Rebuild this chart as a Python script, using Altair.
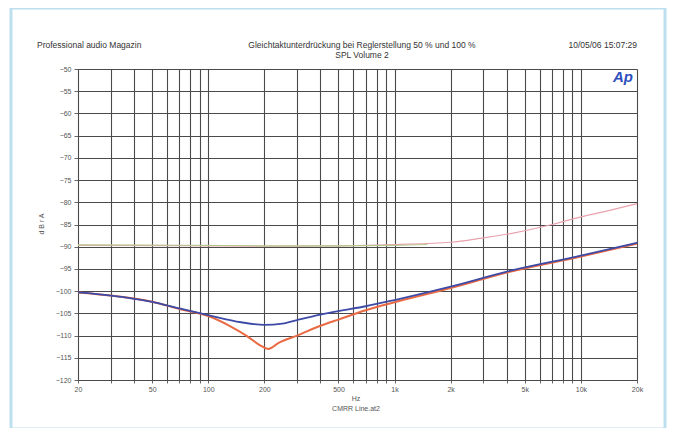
import altair as alt
import pandas as pd

# ---- data ----
freq_blue = [20, 30, 50, 70, 100, 150, 200, 250, 300, 400, 500, 700, 1000, 2000, 4000, 10000, 20000]
blue_db   = [-100.3, -101.0, -102.4, -103.9, -105.4, -107.0, -107.6, -107.3, -106.5, -105.3, -104.5, -103.4, -102.0, -99.0, -95.6, -92.0, -89.1]

freq_red = [20, 30, 50, 70, 100, 130, 160, 190, 210, 240, 300, 400, 500, 700, 1000, 2000, 4000, 10000, 20000]
red_db   = [-100.3, -101.0, -102.4, -104.0, -105.6, -107.8, -110.0, -112.2, -113.0, -111.6, -110.0, -107.8, -106.4, -104.3, -102.5, -99.3, -95.8, -92.2, -89.3]

freq_green = [20, 100, 200, 500, 1000, 1500]
green_db   = [-89.6, -89.7, -89.8, -89.8, -89.7, -89.5]

freq_pink = [20, 100, 200, 500, 1000, 2000, 3000, 4000, 5000, 7000, 10000, 15000, 20000]
pink_db   = [-89.7, -89.8, -89.9, -89.8, -89.5, -89.0, -88.0, -87.2, -86.4, -85.0, -83.3, -81.6, -80.3]

grid_freqs = [20, 30, 40, 50, 60, 70, 80, 90, 100, 200, 300, 400, 500, 600, 700, 800, 900,
              1000, 2000, 3000, 4000, 5000, 6000, 7000, 8000, 9000, 10000, 20000]
label_freqs = [20, 50, 100, 200, 500, 1000, 2000, 5000, 10000, 20000]
y_ticks = [-50, -55, -60, -65, -70, -75, -80, -85, -90, -95, -100, -105, -110, -115, -120]

title_left = "Professional audio Magazin"
title_center = "Gleichtaktunterdrückung bei Reglerstellung 50 % und 100 %"
title_center2 = "SPL Volume 2"
title_right = "10/05/06 15:07:29"
x_title1 = "Hz"
x_title2 = "CMRR Line.at2"
y_title = "d B r A"

W, H = 559, 311
FONT = "Liberation Sans"

def series(f, v, name):
    return pd.DataFrame({"f": f, "db": v, "s": name})

xscale = alt.Scale(type="log", domain=[20, 20000], nice=False)
yscale = alt.Scale(domain=[-120, -50], nice=False)

label_test = "||".join(f"datum.value=={v}" for v in label_freqs)
label_expr = (f"({label_test}) ? (datum.value>=1000 ? format(datum.value/1000,'d')+'k' : format(datum.value,'d')) : ''")

GRID = "#4a4a4a"
xax = alt.Axis(values=grid_freqs, labelExpr=label_expr, title=None, grid=True,
               gridColor=GRID, gridWidth=1.1, domainColor=GRID, tickSize=3,
               tickColor="#666666", labelFontSize=7, labelColor="#555555", labelFont=FONT,
               labelPadding=2, labelFlush=False)
yax = alt.Axis(values=y_ticks, title=None, grid=True, gridColor=GRID, gridWidth=1.1,
               domainColor=GRID, tickSize=4, tickColor="#666666", labelFontSize=7,
               labelColor="#555555", labelFont=FONT, labelPadding=3)

def line(df, color, width):
    return alt.Chart(df).mark_line(color=color, strokeWidth=width, interpolate="monotone").encode(
        x=alt.X("f:Q", scale=xscale, axis=xax),
        y=alt.Y("db:Q", scale=yscale, axis=yax),
    )

pink = line(series(freq_pink, pink_db, "pink"), "#e9a3ad", 1.2)
green = line(series(freq_green, green_db, "green"), "#b4c88c", 1.2)
red = line(series(freq_red, red_db, "red"), "#ea6a44", 2.0)
blue = line(series(freq_blue, blue_db, "blue"), "#3d4aa6", 1.8)

one = pd.DataFrame({"a": [0]})

def txt(t, x, y, size=8, align="left", color="#333333", **kw):
    return alt.Chart(one).mark_text(text=t, align=align, baseline="middle", fontSize=size,
                                    font=FONT, color=color, **kw).encode(
        x=alt.value(x), y=alt.value(y))

frame = alt.Chart(one).mark_rect(fill=None, stroke="#bde0ef", strokeWidth=3).encode(
    x=alt.value(-67), x2=alt.value(587), y=alt.value(-61), y2=alt.value(360))

texts = [
    txt(title_left, -41, -24, 8.5),
    txt(title_center, 284, -24, 8.5, align="center"),
    txt(title_center2, 284, -14, 8.5, align="center"),
    txt(title_right, 559, -24, 8.5, align="right"),
    txt(x_title1, 278, 330, 7, align="center", color="#555555"),
    txt(x_title2, 278, 340, 7, align="center", color="#555555"),
    txt(y_title, -36, 155, 7, align="center", color="#555555", angle=270),
    txt("Ap", 545, 8, 15, align="center", color="#2f4fc0", fontStyle="italic", fontWeight="bold"),
]

chart = alt.layer(pink, green, red, blue, frame, *texts).properties(
    width=W, height=H,
    autosize=alt.AutoSizeParams(type="none"),
    padding={"left": 70, "top": 61, "right": 30, "bottom": 48},
).configure_view(stroke=GRID, strokeWidth=1.1).configure(background="white")

chart.save("out.html", embed_options={"renderer": "svg", "actions": False})
